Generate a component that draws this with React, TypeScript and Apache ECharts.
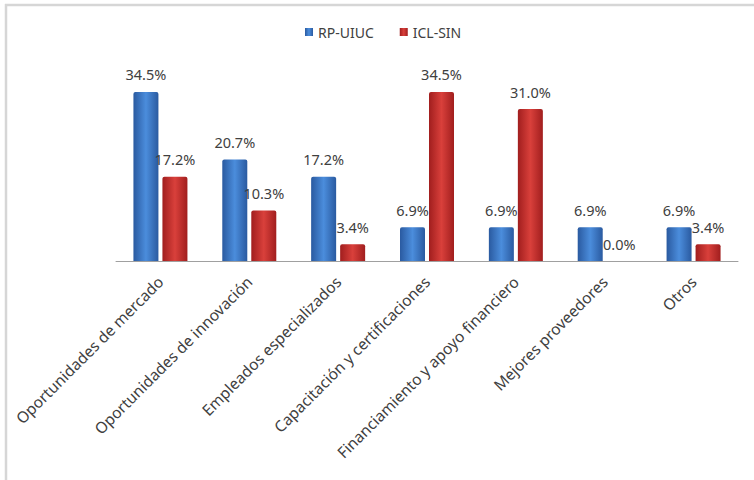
import React, { useEffect, useRef } from "react";
import * as echarts from "echarts";

// Motivos de colaboración por grupo (porcentaje de respuestas)
const categories = [
  "Oportunidades de mercado",
  "Oportunidades de innovación",
  "Empleados especializados",
  "Capacitación y certificaciones",
  "Financiamiento y apoyo financiero",
  "Mejores proveedores",
  "Otros",
];
const seriesNames = ["RP-UIUC", "ICL-SIN"];
const rpUiuc = [34.5, 20.7, 17.2, 6.9, 6.9, 6.9, 6.9];
const iclSin = [17.2, 10.3, 3.4, 34.5, 31.0, 0.0, 3.4];

const FONT = "'Noto Sans', 'DejaVu Sans', sans-serif";
const TEXT = "#404040";

const blueFill = new echarts.graphic.LinearGradient(0, 0, 1, 0, [
  { offset: 0, color: "#2a5aa0" },
  { offset: 0.5, color: "#4b8ddc" },
  { offset: 1, color: "#2a5aa0" },
]);
const redFill = new echarts.graphic.LinearGradient(0, 0, 1, 0, [
  { offset: 0, color: "#a11e1e" },
  { offset: 0.5, color: "#d9403b" },
  { offset: 1, color: "#a11e1e" },
]);

const valueLabel = {
  show: true,
  position: "top" as const,
  distance: 10,
  fontFamily: FONT,
  fontSize: 14.5,
  color: TEXT,
  formatter: (p: any) => `${Number(p.value).toFixed(1)}%`,
};

export default function App() {
  const ref = useRef<HTMLDivElement>(null);

  useEffect(() => {
    if (!ref.current) return;
    const chart = echarts.init(ref.current, undefined, { renderer: "svg" });
    chart.setOption({
      animation: false,
      backgroundColor: "#ffffff",
      graphic: [
        {
          type: "line",
          shape: { x1: 5, y1: 5, x2: 754, y2: 5 },
          style: { stroke: "#d6d6d6", lineWidth: 2.5 },
        },
        {
          type: "line",
          shape: { x1: 6, y1: 4, x2: 6, y2: 480 },
          style: { stroke: "#d6d6d6", lineWidth: 2.5 },
        },
      ],
      legend: {
        top: 20,
        left: 300,
        icon: "rect",
        itemWidth: 8,
        itemHeight: 8,
        itemGap: 26,
        textStyle: { fontFamily: FONT, fontSize: 14, color: TEXT },
        data: seriesNames,
      },
      grid: { left: 116, right: 16, top: 65, bottom: 219 },
      xAxis: {
        type: "category",
        data: categories,
        axisLine: { show: true, lineStyle: { color: "#a0a0a0", width: 1 } },
        axisTick: { show: false },
        axisLabel: {
          rotate: 45,
          interval: 0,
          margin: 18,
          fontFamily: FONT,
          fontSize: 15.5,
          color: TEXT,
        },
      },
      yAxis: {
        type: "value",
        min: 0,
        max: 40,
        show: false,
      },
      series: [
        {
          name: seriesNames[0],
          type: "bar",
          data: rpUiuc,
          barWidth: 25,
          barGap: "16%",
          itemStyle: {
            color: blueFill,
            borderRadius: [2, 2, 0, 0],
          },
          label: valueLabel,
        },
        {
          name: seriesNames[1],
          type: "bar",
          data: iclSin,
          barWidth: 25,
          itemStyle: {
            color: redFill,
            borderRadius: [2, 2, 0, 0],
          },
          label: valueLabel,
        },
      ],
    });
    return () => chart.dispose();
  }, []);

  return (
    <div
      ref={ref}
      style={{ position: "fixed", left: 0, top: 0, width: 754, height: 480 }}
    />
  );
}
